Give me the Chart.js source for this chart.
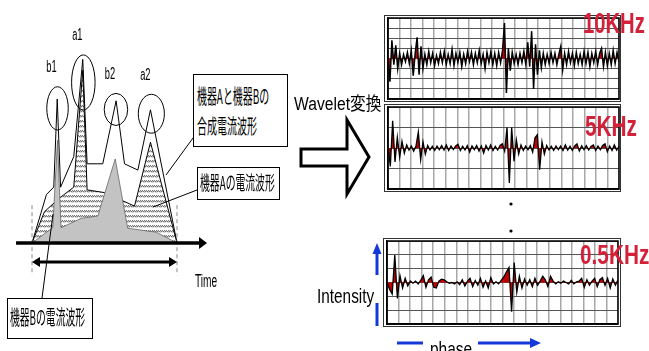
<!DOCTYPE html>
<html>
<head>
<meta charset="utf-8">
<script src="https://cdn.jsdelivr.net/npm/chart.js"></script>
<style>
  body { margin: 0; width: 649px; height: 351px; overflow: hidden; background: #fff; position: relative;
         font-family: "Liberation Sans", "Noto Sans CJK JP", sans-serif; }
  .abs { position: absolute; }
  .txt { position: absolute; white-space: nowrap; line-height: 1; transform-origin: 0 0; }
  .jp { font-family: "Noto Sans CJK JP", sans-serif; }
  .box { position: absolute; border: 1px solid #000; background: #fff; box-sizing: border-box; }
  .frame { position: absolute; border: 1.5px solid #333; background: #fff; box-sizing: border-box; }
  .red { color: #d4213a; font-weight: bold; }
</style>
</head>
<body>

<!-- right hand panels: outer frames first, charts on top -->
<div class="frame" style="left:384px;top:15px;width:237px;height:87px"></div>
<div class="frame" style="left:384px;top:104px;width:237px;height:88px"></div>
<div class="frame" style="left:383px;top:238px;width:238px;height:89px"></div>

<canvas id="waveChart" class="abs" width="290" height="351" style="left:3px;top:0"></canvas>
<canvas id="p10k" class="abs" width="233" height="83" style="left:387px;top:17px"></canvas>
<canvas id="p5k" class="abs" width="233" height="84" style="left:387px;top:106px"></canvas>
<canvas id="p05k" class="abs" width="233" height="85" style="left:386px;top:240px"></canvas>

<svg class="abs" width="649" height="351" style="left:0;top:0">
  <line x1="42" y1="298" x2="53" y2="214" stroke="#000" stroke-width="1"/>
  <line x1="193" y1="138" x2="166" y2="175" stroke="#000" stroke-width="1"/>
  <line x1="197" y1="190" x2="153" y2="207" stroke="#000" stroke-width="1"/>
  <polygon points="301,149 347,149 347,120 369,157 347,194 347,166 301,166"
           fill="#fff" stroke="#000" stroke-width="3"/>
  <g stroke="#1438d8" stroke-width="3">
    <line x1="377" y1="252" x2="377" y2="275"/>
    <line x1="377" y1="303" x2="377" y2="326"/>
    <line x1="397" y1="343" x2="423" y2="343"/>
    <line x1="478" y1="343" x2="532" y2="343"/>
  </g>
  <polygon points="377,243 372.5,254 381.5,254" fill="#1438d8"/>
  <polygon points="541,343 530,338 530,348" fill="#1438d8"/>
  <circle cx="511" cy="204" r="1.6" fill="#000"/>
  <circle cx="511" cy="231" r="1.6" fill="#000"/>
</svg>

<div class="box" style="left:193px;top:74px;width:95px;height:73px"></div>
<div class="box" style="left:197px;top:167px;width:83px;height:33px"></div>
<div class="box" style="left:7px;top:298px;width:86px;height:41px"></div>

<span class="txt jp" data-w="72" style="left:197px;top:86px;font-size:20px">機器Aと機器Bの</span>
<span class="txt jp" data-w="60" style="left:197px;top:116px;font-size:20px">合成電流波形</span>
<span class="txt jp" data-w="75" style="left:200px;top:172px;font-size:19px">機器Aの電流波形</span>
<span class="txt jp" data-w="75" style="left:10px;top:307px;font-size:20px">機器Bの電流波形</span>
<span class="txt" data-w="22" style="left:195px;top:272px;font-size:18px">Time</span>
<span class="txt" data-w="87" style="left:294px;top:95px;font-size:18px">Wavelet変換</span>
<span class="txt" data-w="57" style="left:317px;top:285px;font-size:21px">Intensity</span>
<span class="txt" data-w="42" style="left:430px;top:338px;font-size:21px">phase</span>
<span class="txt red" id="lab0" data-w="62" style="left:583px;top:8px;font-size:30px"></span>
<span class="txt red" id="lab1" data-w="52" style="left:585px;top:111px;font-size:30px"></span>
<span class="txt red" id="lab2" data-w="69" style="left:580px;top:241px;font-size:28px"></span>

<script>
// left schematic: time (ms) and current
const timeSum = [0, 1.0, 1.5, 1.74, 1.97, 2.88, 3.5, 3.8, 4.88, 5.8, 6.38, 7.3, 8.17, 10];
const ampSum  = [0, 2.7, 3.1, 8.0, 3.1, 4.8, 10.2, 4.4, 4.4, 7.9, 4.4, 4.05, 7.4, 0];
const timeA = [0, 0.86, 1.9, 2.88, 3.5, 3.8, 5.0, 7.07, 8.17, 10];
const ampA  = [0, 1.74, 2.5, 3.1, 9.6, 2.95, 2.8, 2.05, 5.6, 0];
const timeB = [0, 1.43, 1.76, 2.0, 3.4, 4.54, 5.74, 6.6, 8.57, 10];
const ampB  = [0, 0.85, 5.7, 0.85, 1.37, 1.5, 4.67, 0.82, 0.6, 0];

const peakNames = ["b1", "a1", "b2", "a2"];
const ringT  = [1.76, 3.54, 5.79, 8.23];
const ringI  = [7.48, 8.92, 7.42, 7.18];
const ringRt = [0.74, 0.81, 0.81, 0.9];
const ringRi = [1.2, 1.53, 0.89, 1.08];

// wavelet panels
const bandLabels = ["10KHz", "5KHz", "0.5KHz"];
const bandSpan = [4, 2, 3];
const phaseMax = 20;

const sig10k = [
  0.2, -2.3, 1.8, -0.6, 1.3, -1.0, 0.5, -0.6, 0.4, -0.3,
  0.6, -0.5, 0.8, -1.7, 0.5, 2.1, -1.6, 1.2, -1.0, 0.4,
  -0.6, 0.7, -0.4, 0.5, -0.7, 0.3, -0.5, 0.6, -0.4, 0.7,
  -0.6, 0.4, -0.5, 0.9, -0.7, 0.5, -0.4, 0.6, -0.8, 0.4,
  -0.5, 0.7, -0.3, 0.6, -0.6, 0.5, -0.4, 0.8, -0.5, 0.4,
  -1.0, 0.6, -0.4, 0.7, -0.6, 0.5, -0.7, 0.6, -0.4, 0.8,
  3.5, -3.4, 1.0, -1.2, 0.6, -0.5, 0.4, -0.6, 0.5, -0.4,
  0.7, -0.6, 1.6, -0.8, 2.7, -3.0, 1.4, -1.6, 0.8, -0.9,
  0.5, -0.6, 0.4, -0.5, 0.6, -0.4, 0.5, -0.6, 0.4, 1.2,
  -1.1, 0.5, -0.6, 0.7, -0.4, 0.5, -0.7, 0.6, -0.5, 0.4,
  -0.6, 0.7, -0.5, 0.6, -0.8, 0.5, -0.4, 0.7, -0.6, 0.5,
  1.0, -0.8, 0.6, -0.7, 0.5, -0.6, 0.8, -0.5, 0.6, -0.3
];
const sig5k = [
  0.1, -0.9, 1.33, -0.68, 0.52, -0.45, 0.33, -0.25, 0.15, -0.1,
  0.1, -0.15, 0.1, 0.78, -0.57, 0.3, -0.3, 0.12, -0.1, 0.08,
  -0.12, 0.1, -0.08, 0.12, -0.1, 0.15, -0.12, 0.1, -0.08, 0.1,
  0.18, -0.12, 0.08, -0.1, 0.12, -0.2, 0.1, -0.08, 0.12, -0.15,
  0.1, -0.25, 0.12, -0.1, 0.15, -0.12, 0.08, -0.1, 0.12, 0.2,
  -0.15, 1.0, -1.7, 1.0, -0.65, 0.4, -0.3, 0.15, -0.12, 0.1,
  -0.08, 0.12, -0.2, 0.5, 0.65, -1.06, 0.3, -0.3, 0.12, -0.1,
  0.08, -0.12, 0.1, -0.08, 0.1, -0.12, 0.15, -0.1, 0.08, -0.12,
  0.1, 0.2, -0.15, 0.1, -0.08, 0.12, -0.1, 0.08, 0.15, -0.12,
  0.1, -0.08, 0.12, 0.2, -0.18, 0.1, -0.12, 0.15, -0.1, 0.08
];
const sig05k = [
  0, -0.5, -0.84, 1.98, -1.16, 0.5, -0.4, 0.3, -0.25, 0.1,
  -0.05, 0.1, -0.1, 0.15, 0.5, -0.35, 0.2, 0.4, -0.35, -0.4,
  0.1, 0.24, 0.2, 0.05, -0.05, 0, -0.1, 0.05, -0.15, 0.2,
  -0.25, 0.1, 0.3, -0.3, 0.15, -0.2, 0.3, -0.35, 0.1, -0.4,
  0.35, -0.1, 0.05, -0.1, 0.15, 0.4, 0.75, 1.09, -2.12, 1.45,
  -0.7, 0.45, -0.4, 0.25, -0.2, 0.2, -0.3, 0.3, -0.2, 0.1,
  0.45, 0.2, -0.3, 0.45, 0.1, -0.1, 0.05, -0.05, 0.1, 0,
  -0.1, 0.15, -0.1, 0.05, 0.1, 0.3, -0.35, 0.2, -0.2, 0.1,
  0.3, -0.3, 0.2, 0.35, -0.2, 0.3, -0.4, 0.25, -0.2, 0.2
];

const pts = (xs, ys) => xs.map((x, i) => ({ x: x, y: ys[i] }));

// hatch tile for the 機器A area
const tile = document.createElement("canvas");
tile.width = 4; tile.height = 5;
const tc = tile.getContext("2d");
tc.fillStyle = "#fff"; tc.fillRect(0, 0, 4, 5);
tc.strokeStyle = "#333"; tc.lineWidth = 1;
tc.beginPath();
tc.moveTo(0, 2.4); tc.lineTo(2, 0.2);
tc.moveTo(2, 2.4); tc.lineTo(4, 0.2);
tc.stroke();
const hatch = tc.createPattern(tile, "repeat");

const schematicDeco = {
  id: "schematicDeco",
  afterDatasetsDraw(chart) {
    const c = chart.ctx, xs = chart.scales.x, ys = chart.scales.y;
    c.save();
    // dashed markers at start and end
    c.strokeStyle = "#888"; c.lineWidth = 1; c.setLineDash([4, 3]);
    [0, 10].forEach(t => {
      c.beginPath();
      c.moveTo(xs.getPixelForValue(t), ys.getPixelForValue(2.1));
      c.lineTo(xs.getPixelForValue(t), ys.getPixelForValue(-1.8));
      c.stroke();
    });
    c.setLineDash([]);
    // time axis
    const y0 = ys.getPixelForValue(0);
    const xa = xs.getPixelForValue(-1.1), xb = xs.getPixelForValue(12.07);
    c.strokeStyle = "#000"; c.fillStyle = "#000"; c.lineWidth = 3.5;
    c.beginPath(); c.moveTo(xa, y0); c.lineTo(xb - 7, y0); c.stroke();
    c.beginPath(); c.moveTo(xb, y0); c.lineTo(xb - 8, y0 - 6); c.lineTo(xb - 8, y0 + 6); c.closePath(); c.fill();
    // duration double arrow
    const yd = ys.getPixelForValue(-1.06);
    const d0 = xs.getPixelForValue(0), d1 = xs.getPixelForValue(10);
    c.lineWidth = 3;
    c.beginPath(); c.moveTo(d0 + 6, yd); c.lineTo(d1 - 6, yd); c.stroke();
    c.beginPath(); c.moveTo(d0, yd); c.lineTo(d0 + 8, yd - 5); c.lineTo(d0 + 8, yd + 5); c.closePath(); c.fill();
    c.beginPath(); c.moveTo(d1, yd); c.lineTo(d1 - 8, yd - 5); c.lineTo(d1 - 8, yd + 5); c.closePath(); c.fill();
    // rings round the peaks and their names
    c.lineWidth = 1;
    peakNames.forEach((name, i) => {
      const cx = xs.getPixelForValue(ringT[i]), cy = ys.getPixelForValue(ringI[i]);
      const rx = Math.abs(xs.getPixelForValue(ringT[i] + ringRt[i]) - cx);
      const ry = Math.abs(ys.getPixelForValue(ringI[i] + ringRi[i]) - cy);
      c.beginPath(); c.ellipse(cx, cy, rx, ry, 0, 0, Math.PI * 2); c.stroke();
      c.save();
      c.translate(cx - 6, cy - ry - 19);
      c.scale(0.58, 1);
      c.font = "16px 'Liberation Sans'";
      c.textAlign = "center"; c.textBaseline = "middle";
      c.fillText(name, 0, 0);
      c.restore();
    });
    c.restore();
  }
};

new Chart(document.getElementById("waveChart"), {
  type: "scatter",
  data: {
    datasets: [
      { data: pts(timeB, ampB), showLine: true, fill: "origin", backgroundColor: "#c3c3c3",
        borderColor: "#666", borderWidth: 0.8, pointRadius: 0, tension: 0, order: 0 },
      { data: pts(timeA, ampA), showLine: true, fill: "origin", backgroundColor: hatch,
        borderColor: "#000", borderWidth: 1, pointRadius: 0, tension: 0, order: 1 },
      { data: pts(timeSum, ampSum), showLine: true, fill: false,
        borderColor: "#000", borderWidth: 1, pointRadius: 0, tension: 0, order: 2 }
    ]
  },
  options: {
    responsive: false, animation: false, events: [],
    layout: { padding: 0 },
    plugins: { legend: { display: false }, tooltip: { enabled: false } },
    scales: {
      x: { type: "linear", min: -2, max: 18, display: false },
      y: { type: "linear", min: -6, max: 13.5, display: false }
    }
  },
  plugins: [schematicDeco]
});

const frameBox = {
  id: "frameBox",
  afterDraw(chart) {
    const a = chart.chartArea, c = chart.ctx;
    c.save();
    c.strokeStyle = "#000"; c.lineWidth = 1.5;
    c.strokeRect(a.left, a.top, a.right - a.left, a.bottom - a.top);
    c.restore();
  }
};

const makePanel = (id, values, span, lw) => {
  const n = values.length;
  const data = values.map((v, i) => ({ x: i * phaseMax / (n - 1), y: v }));
  return new Chart(document.getElementById(id), {
    type: "line",
    data: { datasets: [{ data: data, borderColor: "#000", borderWidth: lw, backgroundColor: "#c00000",
                         fill: "origin", pointRadius: 0, tension: 0 }] },
    options: {
      responsive: false, animation: false, events: [],
      layout: { padding: 1 },
      plugins: { legend: { display: false }, tooltip: { enabled: false } },
      scales: {
        x: { type: "linear", min: 0, max: phaseMax,
             ticks: { display: false, stepSize: 1, maxTicksLimit: 40 },
             grid: { color: "#a8a8a8", lineWidth: 1.5, drawTicks: false },
             border: { color: "#000", width: 1.5 } },
        y: { type: "linear", min: -span, max: span,
             ticks: { display: false, stepSize: 1, maxTicksLimit: 40 },
             grid: { color: "#555", lineWidth: 1, drawTicks: false },
             border: { color: "#000", width: 1.5 } }
      }
    },
    plugins: [frameBox]
  });
};

makePanel("p10k", sig10k, bandSpan[0], 1.5);
makePanel("p5k", sig5k, bandSpan[1], 1.3);
makePanel("p05k", sig05k, bandSpan[2], 1.3);

bandLabels.forEach((t, i) => { document.getElementById("lab" + i).textContent = t; });

// squeeze the narrow lettering to its measured width
document.querySelectorAll("[data-w]").forEach(el => {
  el.style.transform = "scaleX(" + (+el.dataset.w / el.offsetWidth) + ")";
});
</script>
</body>
</html>
